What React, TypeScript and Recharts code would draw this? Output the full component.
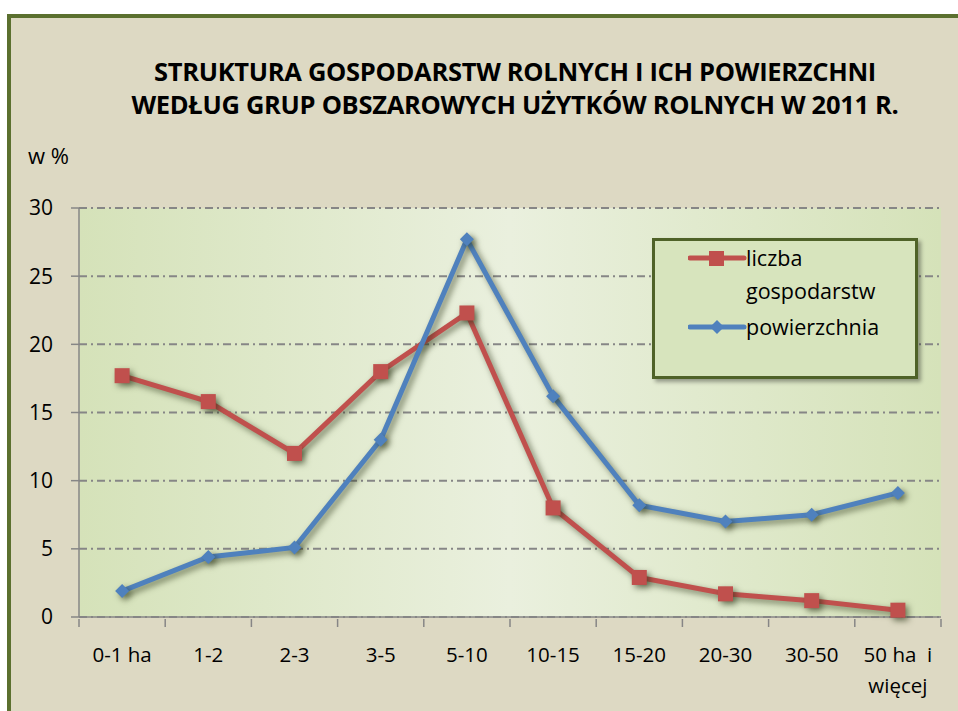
import React from 'react'
import { LineChart, Line, XAxis, YAxis, CartesianGrid } from 'recharts'

const categories = ['0-1 ha', '1-2', '2-3', '3-5', '5-10', '10-15', '15-20', '20-30', '30-50', '50 ha  i\nwięcej']
const liczbaGospodarstw = [17.7, 15.8, 12.0, 18.0, 22.3, 8.0, 2.9, 1.7, 1.2, 0.5]
const powierzchnia = [1.9, 4.4, 5.1, 13.0, 27.7, 16.2, 8.2, 7.0, 7.5, 9.1]
const yTicks = [0, 5, 10, 15, 20, 25, 30]

const titleLines = ['STRUKTURA GOSPODARSTW ROLNYCH I ICH POWIERZCHNI', 'WEDŁUG GRUP OBSZAROWYCH UŻYTKÓW ROLNYCH W 2011 R.']
const unitLabel = 'w %'

const RED = '#c0504d'
const BLUE = '#4f81bd'
const GRID = '#868686'
const FONT = '"Open Sans", "DejaVu Sans", sans-serif'

const W = 958
const H = 711
const PLOT_LEFT = 79
const PLOT_RIGHT = 941
const PLOT_TOP = 208
const PLOT_BOTTOM = 617
const X_AXIS_H = 30
const BAND = (PLOT_RIGHT - PLOT_LEFT) / categories.length

const data = categories.map((name, i) => ({
  name,
  liczba: liczbaGospodarstw[i],
  pow: powierzchnia[i],
}))

const SquareDot = (props: any) => {
  const { cx, cy, index } = props
  if (cx == null || cy == null) return null
  return <rect key={`sq-${index}`} x={cx - 7.5} y={cy - 7.5} width={15} height={15} fill={RED} />
}

const DiamondDot = (props: any) => {
  const { cx, cy, index } = props
  if (cx == null || cy == null) return null
  const r = 7
  return (
    <path
      key={`dm-${index}`}
      d={`M${cx},${cy - r}L${cx + r},${cy}L${cx},${cy + r}L${cx - r},${cy}Z`}
      fill={BLUE}
    />
  )
}

const CategoryTick = (props: any) => {
  const { x, y, payload, index } = props
  const lines = String(payload.value).split('\n')
  const last = index === categories.length - 1
  return (
    <g>
      <line x1={x - BAND / 2} x2={x - BAND / 2} y1={y - 8} y2={y} stroke={GRID} strokeWidth={1.5} />
      {last && <line x1={x + BAND / 2} x2={x + BAND / 2} y1={y - 8} y2={y} stroke={GRID} strokeWidth={1.5} />}
      <text x={x} y={y} textAnchor="middle" fontFamily={FONT} fontSize={20.5} fill="#000">
        {lines.map((l, i) => (
          <tspan key={i} x={x} dy={i === 0 ? 35 : 31} textAnchor="middle" style={{ whiteSpace: 'pre' }}>
            {l}
          </tspan>
        ))}
      </text>
    </g>
  )
}

const LegendBox = () => (
  <div
    style={{
      position: 'absolute',
      left: 652,
      top: 238,
      width: 266,
      height: 141,
      boxSizing: 'border-box',
      background: '#d7e4bd',
      border: '3px solid #4f6228',
      boxShadow: '3px 3px 4px rgba(0,0,0,0.35)',
      fontFamily: FONT,
      fontSize: 21.5,
      color: '#000',
    }}
  >
    <svg width={60} height={20} style={{ position: 'absolute', left: 33, top: 7 }}>
      <line x1={2} x2={56} y1={10} y2={10} stroke={RED} strokeWidth={5} strokeLinecap="round" />
      <rect x={21} y={3} width={15} height={15} fill={RED} />
    </svg>
    <div style={{ position: 'absolute', left: 91, top: 0, lineHeight: '33px' }}>
      liczba
      <br />
      gospodarstw
    </div>
    <svg width={60} height={20} style={{ position: 'absolute', left: 33, top: 76 }}>
      <line x1={2} x2={56} y1={10} y2={10} stroke={BLUE} strokeWidth={5} strokeLinecap="round" />
      <path d="M29,3L36,10L29,17L22,10Z" fill={BLUE} />
    </svg>
    <div style={{ position: 'absolute', left: 91, top: 69, lineHeight: '33px' }}>powierzchnia</div>
  </div>
)

export default function App() {
  return (
    <div style={{ position: 'absolute', left: 0, top: 0, width: W, height: H, background: '#fff', overflow: 'hidden' }}>
      <style>{`
        .recharts-line-curve, .recharts-line-dots { filter: drop-shadow(3px 3px 3px rgba(40,50,20,0.6)); }
      `}</style>
      <svg width={0} height={0} style={{ position: 'absolute' }}>
        <defs>
          <linearGradient id="plotBg" x1="0" y1="0" x2="1" y2="0">
            <stop offset="0%" stopColor="#d5e2b9" />
            <stop offset="50%" stopColor="#eaf0de" />
            <stop offset="100%" stopColor="#d5e2b9" />
          </linearGradient>
        </defs>
      </svg>
      <div
        style={{
          position: 'absolute',
          left: 7,
          top: 14,
          width: W + 10,
          height: H + 10,
          background: '#ddd9c3',
          borderLeft: '4px solid #5b702f',
          borderTop: '4px solid #5b702f',
          boxSizing: 'border-box',
        }}
      />
      <div
        style={{
          position: 'absolute',
          left: 60,
          top: 55,
          width: 910,
          textAlign: 'center',
          fontFamily: FONT,
          fontWeight: 700,
          fontSize: 25.5,
          lineHeight: '33px',
          letterSpacing: -0.3,
          color: '#000',
        }}
      >
        {titleLines[0]}
        <br />
        {titleLines[1]}
      </div>
      <div style={{ position: 'absolute', left: 28, top: 140, fontFamily: FONT, fontSize: 22, color: '#000' }}>{unitLabel}</div>
      <div style={{ position: 'absolute', left: 0, top: 0 }}>
        <LineChart
          width={W}
          height={H}
          data={data}
          margin={{ top: PLOT_TOP, right: W - PLOT_RIGHT, bottom: H - PLOT_BOTTOM - X_AXIS_H, left: 0 }}
        >
          <CartesianGrid
            vertical={false}
            horizontal
            stroke={GRID}
            strokeWidth={2}
            strokeDasharray="8 4 2 4"
            fill="url(#plotBg)"
            fillOpacity={1}
          />
          <XAxis
            dataKey="name"
            interval={0}
            height={X_AXIS_H}
            padding={{ left: BAND / 2, right: BAND / 2 }}
            tickLine={false}
            tickSize={8}
            tick={<CategoryTick />}
            axisLine={{ stroke: GRID, strokeWidth: 1.5 }}
          />
          <YAxis
            width={PLOT_LEFT}
            domain={[0, 30]}
            ticks={yTicks}
            interval={0}
            tickSize={8}
            tickMargin={18}
            tickLine={{ stroke: GRID, strokeWidth: 1.5 }}
            axisLine={{ stroke: GRID, strokeWidth: 1.5 }}
            tick={{ fontFamily: FONT, fontSize: 21, fill: '#000' }}
          />
          <Line
            type="linear"
            dataKey="liczba"
            stroke={RED}
            strokeWidth={5}
            dot={<SquareDot />}
            activeDot={false}
            isAnimationActive={false}
          />
          <Line
            type="linear"
            dataKey="pow"
            stroke={BLUE}
            strokeWidth={5}
            dot={<DiamondDot />}
            activeDot={false}
            isAnimationActive={false}
          />
        </LineChart>
      </div>
      <LegendBox />
    </div>
  )
}
